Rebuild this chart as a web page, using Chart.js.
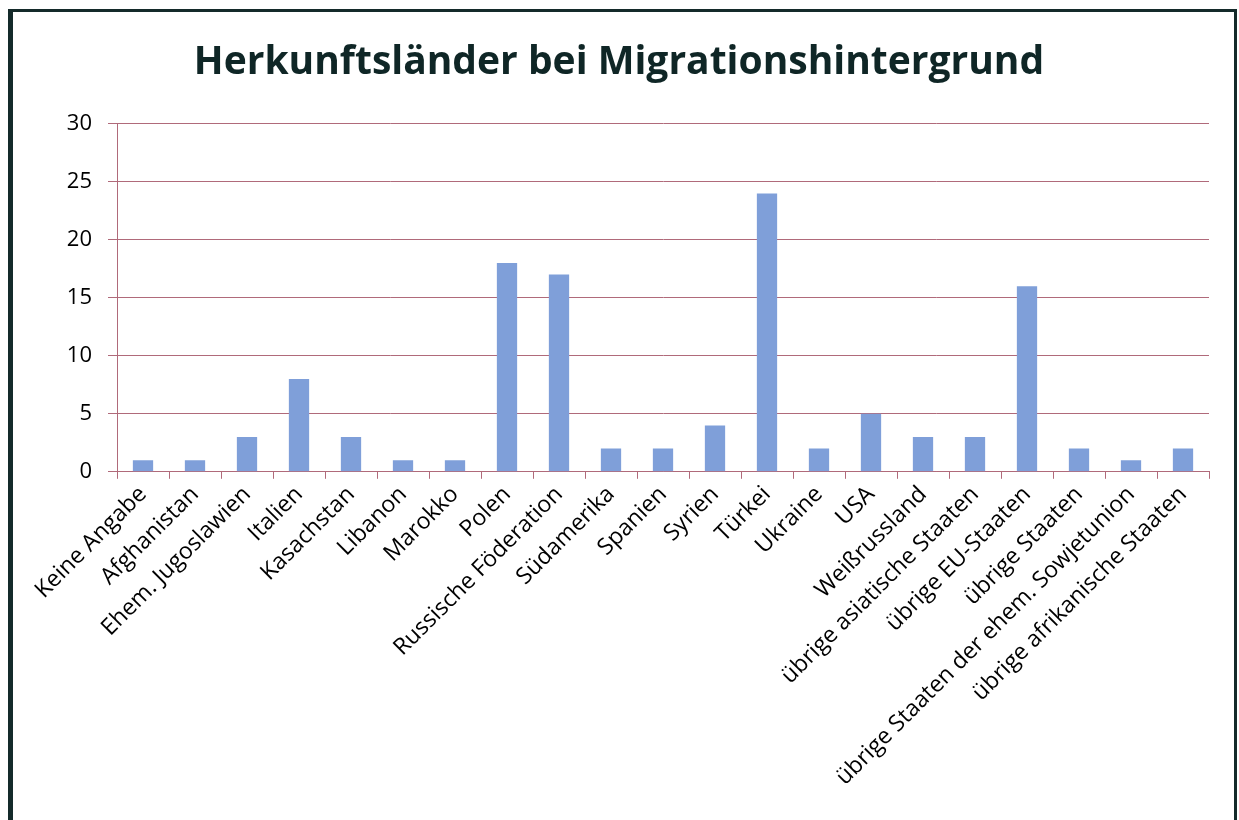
<!DOCTYPE html>
<html lang="de">
<head>
<meta charset="utf-8">
<title>Herkunftsländer bei Migrationshintergrund</title>
<script src="https://cdn.jsdelivr.net/npm/chart.js@4/dist/chart.umd.min.js"></script>
<style>
    html, body { margin: 0; padding: 0; background: #fff; overflow: hidden; }
    .frame {
        position: absolute;
        left: 8px;
        top: 9px;
        width: 1229px;
        height: 830px;
        border-left: 5px solid #142a2a;
        border-top: 3px solid #142a2a;
        border-right: 3px solid #142a2a;
        box-sizing: border-box;
    }
    .chart-box {
        position: absolute;
        left: 4px;
        top: 4px;
        width: 1210px;
        height: 777px;
    }
</style>
</head>
<body>
<div class="frame">
    <div class="chart-box"><canvas id="herkunftChart"></canvas></div>
</div>
<script>
const chartTitle = 'Herkunftsländer bei Migrationshintergrund';

const countries = [
    'Keine Angabe', 'Afghanistan', 'Ehem. Jugoslawien', 'Italien', 'Kasachstan',
    'Libanon', 'Marokko', 'Polen', 'Russische Föderation', 'Südamerika',
    'Spanien', 'Syrien', 'Türkei', 'Ukraine', 'USA', 'Weißrussland',
    'übrige asiatische Staaten', 'übrige EU-Staaten', 'übrige Staaten',
    'übrige Staaten der ehem. Sowjetunion', 'übrige afrikanische Staaten'
];

const counts = [1, 1, 3, 8, 3, 1, 1, 18, 17, 2, 2, 4, 24, 2, 5, 3, 3, 16, 2, 1, 2];

const yMin = 0;
const yMax = 30;
const yStep = 5;

const barColor = '#7f9fd9';
const gridColor = '#b06a7a';

function initializeChart() {
    const ctx = document.getElementById('herkunftChart').getContext('2d');
    new Chart(ctx, {
        type: 'bar',
        data: {
            labels: countries,
            datasets: [{
                label: 'Anzahl',
                data: counts,
                backgroundColor: barColor,
                borderWidth: 0,
                barPercentage: 0.39,
                categoryPercentage: 1.0
            }]
        },
        options: {
            responsive: true,
            maintainAspectRatio: false,
            animation: false,
            layout: {
                padding: { left: 12, right: 18, top: 0, bottom: 0 }
            },
            scales: {
                y: {
                    min: yMin,
                    max: yMax,
                    afterFit: (scale) => { scale.width = 88; },  // feste Achsenbreite
                    ticks: {
                        stepSize: yStep,
                        color: '#000',
                        font: { family: 'Open Sans', size: 22 },
                        padding: 16
                    },
                    grid: {
                        color: gridColor,
                        lineWidth: 1,
                        tickLength: 9
                    },
                    border: { color: gridColor }
                },
                x: {
                    ticks: {
                        color: '#000',
                        font: { family: 'Open Sans', size: 23 },
                        minRotation: 45,
                        maxRotation: 45,
                        autoSkip: false,
                        padding: 2
                    },
                    grid: {
                        color: gridColor,
                        drawOnChartArea: false,
                        tickLength: 7,
                        offset: true
                    },
                    border: { color: gridColor }
                }
            },
            plugins: {
                legend: { display: false },
                tooltip: { enabled: false },
                title: {
                    display: true,
                    text: chartTitle,
                    color: '#0f2626',
                    font: { family: 'Open Sans', size: 39, weight: 'bold' },
                    padding: { top: 23, bottom: 38 }
                }
            }
        }
    });
}

document.addEventListener('DOMContentLoaded', initializeChart);
</script>
</body>
</html>
